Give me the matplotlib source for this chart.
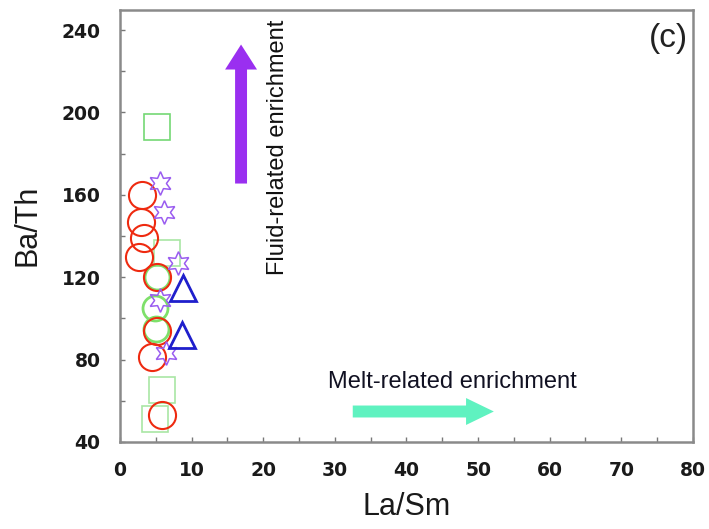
import matplotlib
matplotlib.use("Agg")
import matplotlib.pyplot as plt
from matplotlib.ticker import MultipleLocator

# La/Sm vs Ba/Th by sample group
circle_x = [3.0, 2.9, 3.3, 2.6, 5.1, 5.1, 4.4, 5.8]
circle_y = [160, 147, 139, 130, 120, 94, 81.5, 53]

green_circle_x = [5.2, 4.9, 5.0]
green_circle_y = [120, 105, 95]

star_x = [5.6, 6.2, 8.1, 5.6, 6.4]
star_y = [166, 151.5, 127, 109, 83]

triangle_x = [8.8, 8.6]
triangle_y = [115, 92]

square_x = [5.1]
square_y = [193]
faint_square_x = [6.6, 5.8, 4.9]
faint_square_y = [132, 65, 51]

x_ticks = [0, 10, 20, 30, 40, 50, 60, 70, 80]
y_ticks = [40, 80, 120, 160, 200, 240]

# trend arrows (start, end) in data units
fluid_arrow = ((16.9, 165.5), (16.9, 233))
melt_arrow = ((32.5, 54.8), (52.2, 54.8))

fig = plt.figure(figsize=(7.09, 5.29), dpi=100)
ax = fig.add_axes([0.1693, 0.1645, 0.808, 0.8175])

ax.plot(faint_square_x, faint_square_y, ls="none", marker="s", ms=19,
        mfc="none", mec="#a9e6a4", mew=1.2)
ax.plot(square_x, square_y, ls="none", marker="s", ms=19, mfc="none",
        mec="#74d874", mew=1.2)
ax.plot(green_circle_x, green_circle_y, ls="none", marker="o", ms=18,
        mfc="none", mec="#7ee06a", mew=2.0)
ax.plot(circle_x, circle_y, ls="none", marker="o", ms=19.5, mfc="none",
        mec="#ee2a10", mew=1.5)
ax.plot(star_x, star_y, ls="none", marker=(6, 1, 0), ms=17, mfc="none",
        mec="#9a5cf0", mew=1.1)
ax.plot(triangle_x, triangle_y, ls="none", marker="^", ms=19, mfc="none",
        mec="#1f1fcc", mew=2.0)

ax.annotate("", xy=fluid_arrow[1], xytext=fluid_arrow[0],
            arrowprops=dict(arrowstyle="simple,head_width=1.15,head_length=0.9,tail_width=0.43",
                            mutation_scale=20, color="#9a2ff0",
                            shrinkA=0, shrinkB=0, lw=0))
ax.annotate("", xy=melt_arrow[1], xytext=melt_arrow[0],
            arrowprops=dict(arrowstyle="simple,head_width=0.97,head_length=1.0,tail_width=0.43",
                            mutation_scale=20, color="#5ff2c0",
                            shrinkA=0, shrinkB=0, lw=0))

ax.text(22.1, 183, "Fluid-related enrichment", rotation=90, ha="center",
        va="center", fontsize=17, family="Liberation Sans", color="#111111")
ax.text(46.4, 69, "Melt-related enrichment", ha="center", va="center",
        fontsize=17, family="Liberation Sans", color="#111122")
ax.text(79.3, 236, "(c)", ha="right", va="center", fontsize=24,
        family="Liberation Sans", color="#222222")

ax.set_xlim(0, 80)
ax.set_ylim(40, 250)
ax.set_xticks(x_ticks)
ax.set_yticks(y_ticks)
ax.xaxis.set_minor_locator(MultipleLocator(5))
ax.yaxis.set_minor_locator(MultipleLocator(20))
ax.tick_params(which="both", direction="in", length=3.5, width=1,
               color="#777777", top=False, right=False)
ax.tick_params(axis="both", which="major", labelsize=13.5, pad=14,
               labelcolor="#1a1a1a")
for lab in ax.get_xticklabels() + ax.get_yticklabels():
    lab.set_fontweight("bold")

for sp in ax.spines.values():
    sp.set_color("#8a8a8a")
    sp.set_linewidth(1.8)

ax.set_xlabel("La/Sm", fontsize=22, family="Liberation Sans", labelpad=8,
              color="#1a1a1a")
ax.set_ylabel("Ba/Th", fontsize=22, family="Liberation Sans", labelpad=14,
              color="#1a1a1a")

fig.savefig("out.png", dpi=100)
